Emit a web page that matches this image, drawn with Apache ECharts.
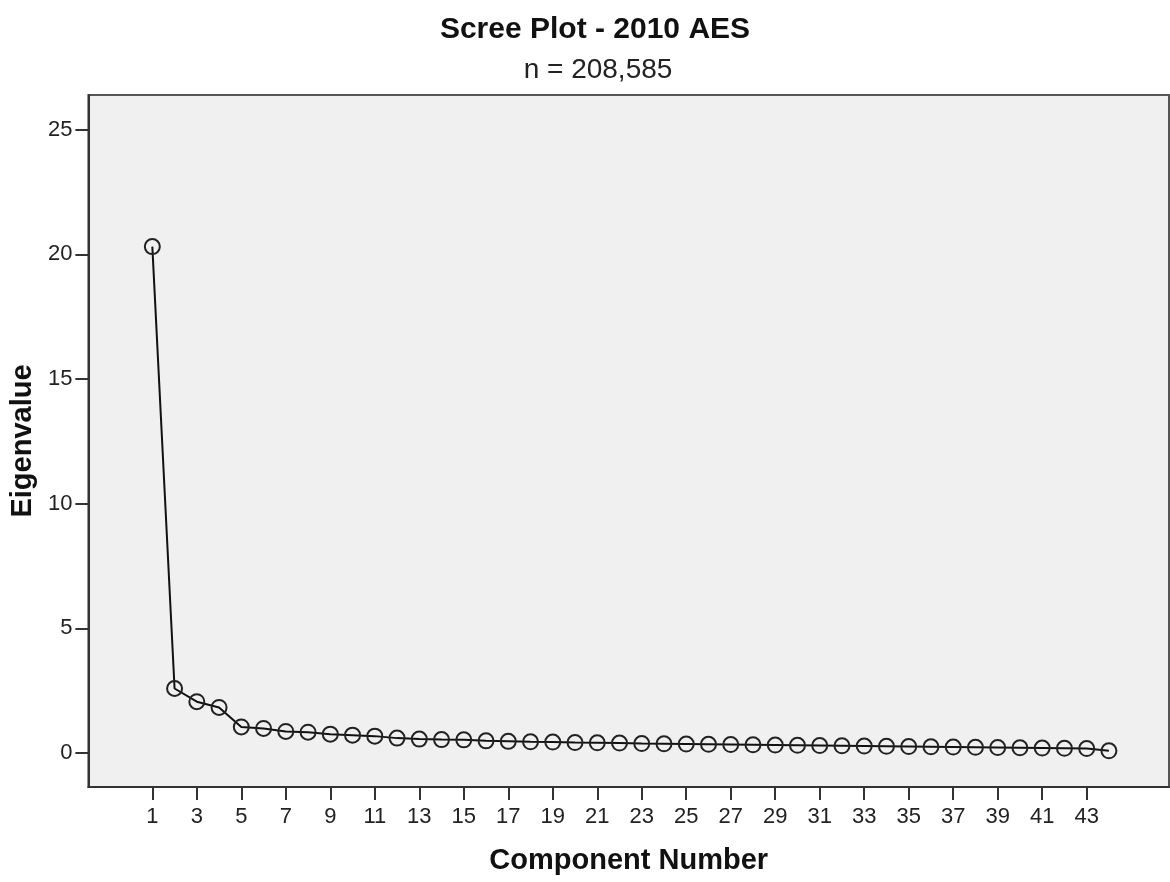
<!DOCTYPE html>
<html>
<head>
<meta charset="utf-8">
<script src="https://cdn.jsdelivr.net/npm/echarts@6/dist/echarts.min.js"></script>
<style>html,body{margin:0;padding:0;background:#fff;}#c{width:1170px;height:882px;}</style>
</head>
<body>
<div id="c"></div>
<script>
var components = [1,2,3,4,5,6,7,8,9,10,11,12,13,14,15,16,17,18,19,20,21,22,23,24,25,26,27,28,29,30,31,32,33,34,35,36,37,38,39,40,41,42,43,44];
var eigenvalues = [20.31,2.59,2.06,1.83,1.05,0.99,0.87,0.84,0.76,0.72,0.68,0.60,0.56,0.54,0.53,0.49,0.47,0.45,0.44,0.42,0.41,0.40,0.38,0.37,0.36,0.35,0.34,0.33,0.32,0.31,0.30,0.29,0.28,0.27,0.26,0.25,0.24,0.23,0.22,0.21,0.20,0.19,0.18,0.09];
var xTickLabels = [1,3,5,7,9,11,13,15,17,19,21,23,25,27,29,31,33,35,37,39,41,43];
var yTickLabels = [0,5,10,15,20,25];
var titleText = 'Scree Plot - 2010 AES';
var subtitleText = 'n = 208,585';

var seriesData = components.map(function(c, i){ return [c, eigenvalues[i]]; });
var font = 'Liberation Sans, Arial, sans-serif';
var chart = echarts.init(document.getElementById('c'), null, {renderer:'canvas'});
chart.setOption({
  animation: false,
  backgroundColor: '#ffffff',
  title: [
    {text: titleText, left: 590, top: 10, textAlign: 'center',
     textStyle: {fontFamily: font, fontSize: 30, fontWeight: 'bold', color: '#111'}},
    {text: subtitleText, left: 593, top: 51, textAlign: 'center',
     textStyle: {fontFamily: font, fontSize: 28, fontWeight: 'normal', color: '#222'}}
  ],
  grid: {left: 88, top: 95, right: 1, bottom: 95, show: true,
         backgroundColor: '#f0f0f0', borderColor: '#555', borderWidth: 2},
  xAxis: {
    type: 'value', min: -1.875, max: 46.7,
    name: 'Component Number', nameLocation: 'middle', nameGap: 59,
    nameTextStyle: {fontFamily: font, fontSize: 29, fontWeight: 'bold', color: '#111'},
    axisLine: {show: true, onZero: false, lineStyle: {color: '#333', width: 2}},
    axisTick: {show: true, length: 13, customValues: xTickLabels, lineStyle: {color: '#333', width: 2}},
    axisLabel: {customValues: xTickLabels, margin: 19, fontFamily: font, fontSize: 22, color: '#222'},
    splitLine: {show: false}
  },
  yAxis: {
    type: 'value', min: -1.36, max: 26.39,
    name: 'Eigenvalue', nameLocation: 'middle', nameGap: 50,
    nameTextStyle: {fontFamily: font, fontSize: 29, fontWeight: 'bold', color: '#111'},
    axisLine: {show: true, onZero: false, lineStyle: {color: '#333', width: 2}},
    axisTick: {show: true, length: 13, customValues: yTickLabels, lineStyle: {color: '#333', width: 2}},
    axisLabel: {customValues: yTickLabels, margin: 16, fontFamily: font, fontSize: 22, color: '#222'},
    splitLine: {show: false}
  },
  series: [{
    type: 'line', data: seriesData,
    symbol: 'circle', symbolSize: 15, showAllSymbol: true,
    lineStyle: {color: '#111', width: 2},
    itemStyle: {color: 'rgba(0,0,0,0)', borderColor: '#222', borderWidth: 2},
    emphasis: {disabled: true}
  }]
});
</script>
</body>
</html>
